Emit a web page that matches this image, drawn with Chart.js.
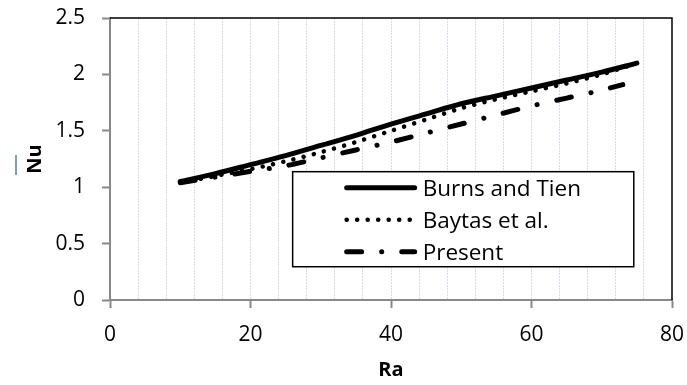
<!DOCTYPE html>
<html lang="en">
  <head>
    <meta charset="UTF-8">
    <title>Nu vs Ra</title>
    <script src="https://cdn.jsdelivr.net/npm/chart.js"></script>
    <style>
      html, body { margin: 0; padding: 0; background: #fff; }
      #wrap { width: 687px; height: 385px; }
    </style>
  </head>
  <body>
    <div id="wrap"><canvas id="graf"></canvas></div>
    <script>
        // Values
        const burnsRa = [10, 15, 20, 25, 30, 35, 40, 45, 50, 55, 60, 65, 70, 75];
        const burnsNu = [1.05, 1.12, 1.20, 1.28, 1.37, 1.46, 1.56, 1.65, 1.74, 1.81, 1.88, 1.95, 2.02, 2.10];

        const baytasRa = [10, 15, 20, 25, 30, 35, 40, 45, 50, 55, 60, 65, 70, 75];
        const baytasNu = [1.04, 1.10, 1.16, 1.23, 1.31, 1.40, 1.50, 1.60, 1.70, 1.78, 1.85, 1.92, 2.00, 2.10];

        const presentRa = [10, 15, 20, 25, 30, 35, 40, 45, 50, 55, 60, 65, 70, 73];
        const presentNu = [1.04, 1.09, 1.14, 1.19, 1.26, 1.33, 1.40, 1.48, 1.56, 1.64, 1.72, 1.79, 1.86, 1.91];

        const xTicks = [0, 20, 40, 60, 80];
        const yTicks = [0, 0.5, 1, 1.5, 2, 2.5];

        const FONT = 'Open Sans';

        const punktar = (xs, ys) => xs.map((x, i) => ({ x: x, y: ys[i] }));

        // Frame (top + right black lines), legend box, and the little overline by "Nu"
        const rammi = {
            id: 'rammi',
            afterDatasetsDraw(chart) {
                const { ctx, chartArea: a } = chart;
                ctx.save();
                ctx.strokeStyle = '#000';
                ctx.lineWidth = 1.5;
                ctx.beginPath();
                ctx.moveTo(a.left, a.top);
                ctx.lineTo(a.right, a.top);
                ctx.lineTo(a.right, a.bottom);
                ctx.stroke();

                // legend
                const w = a.right - a.left, h = a.bottom - a.top;
                const bx = a.left + 0.325 * w, by = a.top + 0.545 * h;
                const bw = 0.932 * w - 0.325 * w, bh = 0.882 * h - 0.545 * h;
                ctx.fillStyle = '#fff';
                ctx.fillRect(bx, by, bw, bh);
                ctx.strokeRect(bx, by, bw, bh);
                ctx.font = '22.5px "' + FONT + '"';
                ctx.textBaseline = 'alphabetic';
                ctx.fillStyle = '#000';
                chart.data.datasets.forEach((ds, i) => {
                    const base = by + 24 + i * 32;
                    const ly = base - 8;
                    ctx.save();
                    ctx.lineWidth = ds.borderWidth;
                    ctx.lineCap = 'round';
                    ctx.setLineDash(ds.borderDash || []);
                    ctx.beginPath();
                    ctx.moveTo(bx + 54, ly);
                    ctx.lineTo(bx + 122, ly);
                    ctx.stroke();
                    ctx.restore();
                    ctx.fillText(ds.label, bx + 130, base);
                });

                // overline of Nu (drawn rotated, so vertical)
                ctx.strokeStyle = '#4a7ebb';
                ctx.lineWidth = 1.5;
                ctx.beginPath();
                const my = (a.top + a.bottom) / 2;
                ctx.moveTo(16, my - 4);
                ctx.lineTo(16, my + 16);
                ctx.stroke();
                ctx.restore();
            }
        };

        const config = {
            type: 'line',
            data: {
                datasets: [
                    {
                        label: 'Burns and Tien',
                        data: punktar(burnsRa, burnsNu),
                        borderColor: '#000',
                        borderWidth: 5,
                        borderCapStyle: 'round',
                        borderJoinStyle: 'round',
                        pointRadius: 0,
                        tension: 0.3
                    },
                    {
                        label: 'Baytas et al.',
                        data: punktar(baytasRa, baytasNu),
                        borderColor: '#000',
                        borderWidth: 4.5,
                        borderDash: [0.1, 10.4],
                        borderCapStyle: 'round',
                        borderJoinStyle: 'round',
                        pointRadius: 0,
                        tension: 0.3
                    },
                    {
                        label: 'Present',
                        data: punktar(presentRa, presentNu),
                        borderColor: '#000',
                        borderWidth: 5,
                        borderDash: [15, 20, 0.1, 20],
                        borderCapStyle: 'round',
                        borderJoinStyle: 'round',
                        pointRadius: 0,
                        tension: 0.3
                    }
                ]
            },
            options: {
                responsive: true,
                maintainAspectRatio: false,
                animation: false,
                layout: { padding: { top: 18, right: 15, left: 0, bottom: 0 } },
                plugins: {
                    legend: { display: false },
                    tooltip: { enabled: false }
                },
                scales: {
                    x: {
                        type: 'linear',
                        min: 0,
                        max: 80,
                        afterFit: (s) => {
                            s.height = 85;
                            s.paddingLeft = 0;
                            s.paddingRight = 0;
                        },
                        ticks: {
                            stepSize: 4,
                            autoSkip: false,
                            maxRotation: 0,
                            padding: 14,
                            color: '#000',
                            font: { family: FONT, size: 21 },
                            callback: (v) => xTicks.includes(v) ? String(v) : ''
                        },
                        grid: {
                            color: (c) => (c.tick && (c.tick.value === 0 || c.tick.value === 80)) ? 'rgba(0,0,0,0)' : '#cfdcf0',
                            lineWidth: 1,
                            tickLength: 8,
                            tickColor: (c) => (c.tick && xTicks.includes(c.tick.value)) ? '#888' : 'rgba(0,0,0,0)',
                            tickWidth: 2
                        },
                        border: { color: '#888', width: 2, dash: [2, 1] },
                        title: {
                            display: true,
                            text: 'Ra',
                            color: '#000',
                            font: { family: FONT, size: 20, weight: 'bold' },
                            padding: { top: 0, bottom: 3 }
                        }
                    },
                    y: {
                        min: 0,
                        max: 2.5,
                        afterFit: (s) => {
                            s.width = 110;
                            s.paddingTop = 0;
                            s.paddingBottom = 0;
                        },
                        afterBuildTicks: (s) => { s.ticks = yTicks.map(v => ({ value: v })); },
                        ticks: {
                            padding: 17,
                            color: '#000',
                            font: { family: FONT, size: 21 },
                            callback: (v) => String(v)
                        },
                        grid: {
                            drawOnChartArea: false,
                            tickLength: 8,
                            tickColor: '#888',
                            tickWidth: 2
                        },
                        border: { color: '#888', width: 2 },
                        title: {
                            display: true,
                            text: 'Nu',
                            color: '#000',
                            font: { family: FONT, size: 20, weight: 'bold' },
                            padding: { top: 23, bottom: 0 }
                        }
                    }
                }
            },
            plugins: [rammi]
        };

        const graf = new Chart(document.getElementById('graf'), config);
    </script>
  </body>
</html>
